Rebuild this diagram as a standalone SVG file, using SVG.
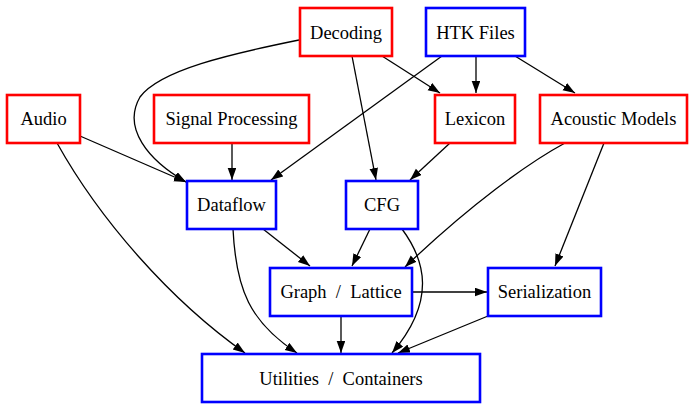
<svg xmlns="http://www.w3.org/2000/svg" width="695" height="410" viewBox="0 0 695 410">
<style>
.n rect{fill:#fff;stroke-width:2.6}
.r rect{stroke:#ff0000}
.b rect{stroke:#0000ff}
.n text{font-family:'Liberation Serif','Times New Roman',Times,serif;font-size:18.5px;text-anchor:middle;fill:#000;white-space:pre}
.e path{fill:none;stroke:#000;stroke-width:1.3;marker-end:url(#ah)}
</style>
<defs>
<marker id="ah" markerUnits="userSpaceOnUse" markerWidth="13" markerHeight="10" refX="12" refY="4.3" orient="auto">
<path d="M0,0 L12,4.3 L0,8.6 z" fill="#000"/>
</marker>
</defs>
<rect width="695" height="410" fill="#fff"/>
<g id="edges" class="e">
<path d="M299,40 C230,54 160,70 140,97 C122,128 148,160 186,182"/>
<path d="M80,136 L186,182"/>
<path d="M232,143 L232,180"/>
<path d="M442,56 L271,180"/>
<path d="M382,56 L440,93"/>
<path d="M352,56 L376,180"/>
<path d="M476,56 L476,93"/>
<path d="M515,56 L575,93"/>
<path d="M450,143 L410,180"/>
<path d="M565,143 C528,163 470,205 405,267"/>
<path d="M604,143 L555,266"/>
<path d="M370,229 L352,266"/>
<path d="M402,229 C425,260 437,300 392,353"/>
<path d="M412,292 L487,292"/>
<path d="M488,316 L398,353"/>
<path d="M341,316 L341,353"/>
<path d="M263,229 L310,266"/>
<path d="M233,229 C236,290 250,322 297,353"/>
<path d="M57,143 C100,220 170,300 245,353"/>
</g>
<g id="decoding" class="n r"><rect x="300" y="8" width="92" height="48"/><text x="346" y="39">Decoding</text></g>
<g id="htk" class="n b"><rect x="426" y="8" width="99" height="48"/><text x="475.5" y="39">HTK Files</text></g>
<g id="audio" class="n r"><rect x="7" y="95" width="73" height="48"/><text x="43.5" y="125">Audio</text></g>
<g id="signal" class="n r"><rect x="154" y="95" width="155" height="48"/><text x="231.5" y="125">Signal Processing</text></g>
<g id="lexicon" class="n r"><rect x="435" y="95" width="80" height="48"/><text x="475" y="125">Lexicon</text></g>
<g id="acoustic" class="n r"><rect x="540" y="95" width="147" height="48"/><text x="613.5" y="125">Acoustic Models</text></g>
<g id="dataflow" class="n b"><rect x="187" y="181" width="89" height="48"/><text x="231.5" y="211">Dataflow</text></g>
<g id="cfg" class="n b"><rect x="346" y="181" width="72" height="48"/><text x="382" y="211">CFG</text></g>
<g id="graph" class="n b"><rect x="270" y="268" width="142" height="48"/><text x="341" y="298">Graph  /  Lattice</text></g>
<g id="serialization" class="n b"><rect x="488" y="268" width="113" height="48"/><text x="544.5" y="298">Serialization</text></g>
<g id="utilities" class="n b"><rect x="202" y="354" width="278" height="48"/><text x="341" y="385">Utilities  /  Containers</text></g>
</svg>
